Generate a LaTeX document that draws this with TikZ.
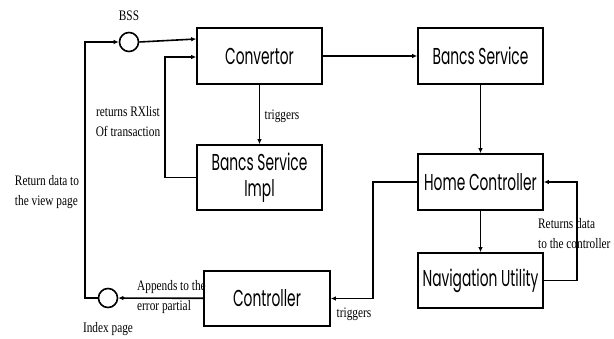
\documentclass[tikz,border=0pt]{standalone}
\usepackage{fontspec}
\usepackage{tikz}
\usetikzlibrary{arrows.meta, positioning, calc}
\setmainfont{Liberation Serif}[FakeStretch=0.78]
\newfontfamily\boxfont{Poppins}[FakeStretch=0.6]

\begin{document}
\begin{tikzpicture}[
  x=1pt, y=-1pt,
  box/.style={draw, line width=1.6pt, minimum width=125pt, minimum height=56pt,
              inner sep=0pt, align=center, font=\boxfont\fontsize{23}{26}\selectfont},
  port/.style={draw, line width=1.6pt, circle, minimum size=19pt, inner sep=0pt},
  lbl/.style={font=\fontsize{14.5}{20}\selectfont, inner sep=0pt},
  arr/.style={-{Latex[length=5pt,width=4.5pt]}, line width=1.6pt},
]
  \useasboundingbox (0,0) rectangle (614,339);

  % Boxes
  \node[box] (conv) at (259.5, 56) {Convertor};
  \node[box] (bancs) at (480.5, 56) {Bancs Service};
  \node[box, minimum height=65pt] (impl) at (259.5, 177.5) {Bancs Service\\Impl};
  \node[box] (home) at (480.5, 182) {Home Controller};
  \node[box, minimum height=55pt] (nav) at (480.5, 280.5) {Navigation Utility};
  \node[box, minimum width=126pt, minimum height=55pt] (ctrl) at (267, 298.5) {Controller};

  % Pages
  \node[port] (bss) at (129, 42) {};
  \node[port] (idx) at (108, 298) {};

  % Connections
  \draw[arr] (idx.west) -- ++(-13,0) |- (bss.west);
  \draw[arr] (bss.east) -- ([yshift=17pt]conv.west);
  \draw[arr] (impl.west) -- ++(-31,0) |- ([yshift=-1pt]conv.west);
  \draw[arr] (conv) -- (impl);
  \draw[arr] (conv) -- (bancs);
  \draw[arr] (bancs) -- (home);
  \draw[arr] (home) -- (nav);
  \draw[arr] (nav.east) -- ++(33,0) |- (home.east);
  \draw[arr] (home.west) -- ++(-44,0) |- (ctrl.east);
  \draw[arr] (ctrl) -- (idx);

  % Labels
  \node[lbl] (bsslbl) at (129, 16) {BSS};
  \node[lbl] (idxlbl) at (108, 329) {Index page};
  \node[lbl, align=center] (rxlbl) at (128, 122) {returns RXlist\\Of transaction};
  \node[lbl] (trig1) at (282, 116) {triggers};
  \node[lbl] (trig2) at (354, 314) {triggers};
  \node[lbl, align=left] (viewlbl) at (47, 192) {Return data to\\the view page};
  \node[lbl, align=left, anchor=west] (errlbl) at (137, 297) {Appends to the\\error partial};
  \node[lbl, align=left, anchor=west] (retlbl) at (538, 234) {Returns data\\to the controller};
\end{tikzpicture}
\end{document}
